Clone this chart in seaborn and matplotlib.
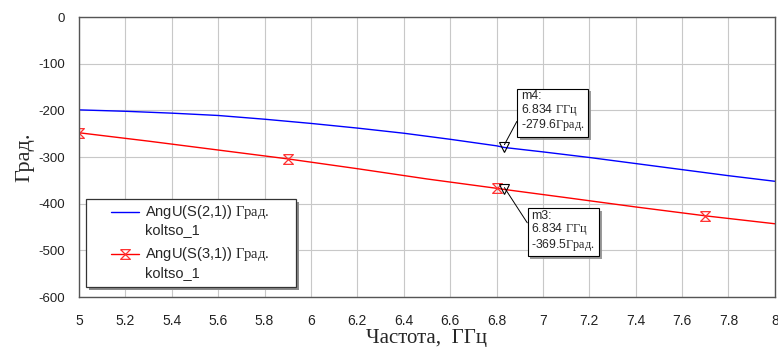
import numpy as np
import pandas as pd
import matplotlib
matplotlib.use("Agg")
import matplotlib.pyplot as plt
import matplotlib.patheffects as pe
from matplotlib.path import Path
from matplotlib.patches import Rectangle
from matplotlib.lines import Line2D
import seaborn as sns

# --- data ---
freq_s21 = [5.0, 5.2, 5.4, 5.6, 5.8, 6.0, 6.2, 6.4, 6.6, 6.8, 6.834,
            7.0, 7.2, 7.4, 7.6, 7.8, 8.0]
ang_s21 = [-199, -202, -206, -211, -219, -228, -238, -249, -262, -276, -279.6,
           -289, -301, -314, -327, -340, -352]

freq_s31 = [5.0, 5.3, 5.6, 5.9, 6.2, 6.5, 6.8, 6.834, 7.1, 7.4, 7.7, 8.0]
ang_s31 = [-248, -266, -285, -304, -325, -347, -367, -369.5, -387, -407, -426, -443]

marker_freq = 6.834
marker_s21 = -279.6
marker_s31 = -369.5

x_ticks = np.round(np.arange(5.0, 8.01, 0.2), 1)
y_ticks = [0, -100, -200, -300, -400, -500, -600]

sns.set_style("whitegrid", {"grid.color": "#c8c8c8", "axes.edgecolor": "#555555"})
plt.rcParams["font.family"] = ["Liberation Sans", "DejaVu Sans"]
plt.rcParams["mathtext.fontset"] = "custom"
plt.rcParams["mathtext.rm"] = "Liberation Serif"
plt.rcParams["axes.unicode_minus"] = False

fig = plt.figure(figsize=(7.78, 3.47), dpi=100)
ax = fig.add_axes([0.1015, 0.144, 0.8945, 0.807])

df21 = pd.DataFrame({"f": freq_s21, "a": ang_s21})
df31 = pd.DataFrame({"f": freq_s31, "a": ang_s31})

# hourglass marker: top bar, diagonal, bottom bar, diagonal
hourglass = Path([(-1, 1), (1, 1), (-1, -1), (1, -1), (-1, 1)],
                 [Path.MOVETO, Path.LINETO, Path.LINETO, Path.LINETO, Path.LINETO])

sns.lineplot(data=df21, x="f", y="a", ax=ax, color="#0000ff", linewidth=1.0,
             label=r"AngU(S(2,1)) $\mathrm{Град.}$" + "\nkoltso_1")
sns.lineplot(data=df31, x="f", y="a", ax=ax, color="#ff0000", linewidth=1.0,
             marker=hourglass, markersize=7, markevery=[0, 3, 6, 10],
             markerfacecolor="none", markeredgecolor="#ff3030", markeredgewidth=0.9,
             label=r"AngU(S(3,1)) $\mathrm{Град.}$" + "\nkoltso_1")

# marker triangles
ax.plot([marker_freq], [marker_s21], marker="v", markersize=7, markerfacecolor="none",
        markeredgecolor="black", markeredgewidth=0.8, linestyle="none")
ax.plot([marker_freq], [marker_s31], marker="v", markersize=7, markerfacecolor="none",
        markeredgecolor="black", markeredgewidth=0.8, linestyle="none")

shadow = [pe.SimplePatchShadow(offset=(2, -2), shadow_rgbFace="#909090", alpha=0.9), pe.Normal()]
box = dict(boxstyle="square,pad=0.3", facecolor="white", edgecolor="black", linewidth=0.8)
a4 = ax.annotate("m4:\n" + r"6.834 $\mathrm{ГГц}$" + "\n" + r"-279.6$\mathrm{Град.}$",
                 xy=(marker_freq, marker_s21 + 6), xytext=(6.905, -157),
                 ha="left", va="top", fontsize=8.8, linespacing=0.95, bbox=box,
                 arrowprops=dict(arrowstyle="-", color="black", lw=0.7, relpos=(0, 0.45),
                                 shrinkA=0, shrinkB=0))
a3 = ax.annotate("m3:\n" + r"6.834 $\mathrm{ГГц}$" + "\n" + r"-369.5$\mathrm{Град.}$",
                 xy=(marker_freq, marker_s31 + 4), xytext=(6.95, -413),
                 ha="left", va="top", fontsize=8.8, linespacing=0.95, bbox=box,
                 arrowprops=dict(arrowstyle="-", color="black", lw=0.7, relpos=(0, 0.55),
                                 shrinkA=0, shrinkB=0))
for a in (a4, a3):
    a.get_bbox_patch().set_path_effects(shadow)

ax.set_xlim(5, 8)
ax.set_ylim(-600, 0)
ax.set_xticks(x_ticks)
ax.set_xticklabels([f"{t:g}" for t in x_ticks])
ax.set_yticks(y_ticks)
ax.tick_params(axis="both", length=0, labelsize=9.5, colors="#222222")
ax.tick_params(axis="x", pad=12)
ax.tick_params(axis="y", pad=10)
for lab in ax.get_xticklabels():
    lab.set_fontsize(10)

ax.set_xlabel("Частота,  ГГц", fontfamily="Liberation Serif", fontsize=15, labelpad=1)
ax.set_ylabel("Град.", fontfamily="Liberation Serif", fontsize=16, labelpad=3)

for sp in ax.spines.values():
    sp.set_color("#555555")
    sp.set_linewidth(1.0)

# legend frame drawn by hand (the reference box is wider than its text)
ax.add_patch(Rectangle((0.0101 + 0.0043, 0.036 - 0.011), 0.3017, 0.314, transform=ax.transAxes,
                       facecolor="#8a8a8a", edgecolor="none", zorder=4))
ax.add_patch(Rectangle((0.0101, 0.036), 0.3017, 0.314, transform=ax.transAxes,
                       facecolor="white", edgecolor="#333333", linewidth=0.9, zorder=4.5))

leg = ax.legend(loc="upper left", bbox_to_anchor=(0.046, 0.335), fontsize=10.5,
                frameon=False, handlelength=1.9, handletextpad=0.45,
                borderpad=0, labelspacing=0.55, borderaxespad=0)
leg.set_zorder(5)
# put each legend line next to the first row of its label
for ln in leg.findobj(Line2D):
    ln.set_ydata(np.asarray(ln.get_ydata()) + 6.5)

fig.savefig("out.png", dpi=100)
